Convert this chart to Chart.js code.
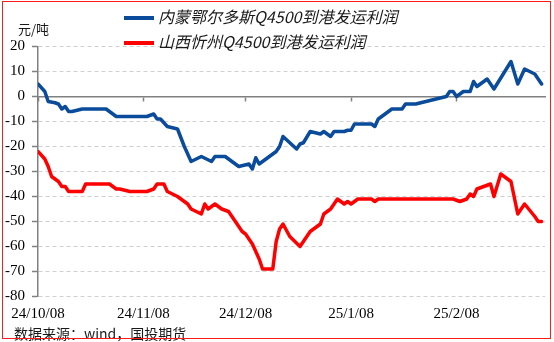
<!DOCTYPE html>
<html>
<head>
<meta charset="utf-8">
<script src="https://cdn.jsdelivr.net/npm/chart.js@4.4.0/dist/chart.umd.min.js"></script>
<style>
  body { margin: 0; background: #fff; }
  #wrap { position: relative; width: 554px; height: 342px; }
  #frame { position: absolute; left: 2px; top: 1px; width: 547px; height: 336px; border: 1.5px solid #ff1a1a; pointer-events: none; }
  .leg { position: absolute; left: 124px; height: 20px; line-height: 20px; font: italic 16px "Noto Sans CJK SC"; color: #1a1a1a; white-space: nowrap; }
  .leg i { display: inline-block; width: 30px; height: 4px; vertical-align: middle; margin-right: 4px; margin-top: -2px; }
  #unit { position: absolute; left: 18px; top: 19px; font: 13px "Noto Sans CJK SC"; color: #1a1a1a; }
  #src { position: absolute; left: 14px; top: 323px; font: 14px "Noto Sans CJK SC"; color: #1a1a1a; }
</style>
</head>
<body>
<div id="wrap">
  <canvas id="myChart" width="554" height="342"></canvas>
  <div class="leg" style="top:4px"><i style="background:#0a4b9b"></i>内蒙鄂尔多斯Q4500到港发运利润</div>
  <div class="leg" style="top:29px"><i style="background:#ff0000"></i>山西忻州Q4500到港发运利润</div>
  <div id="unit">元/吨</div>
  <div id="src">数据来源：wind，国投期货</div>
  <div id="frame"></div>
</div>
<script>
// 横轴：从24/10/08起算的天数
const tickDays = [0, 31, 61, 92, 123];
const tickLabels = ["24/10/08", "24/11/08", "24/12/08", "25/1/08", "25/2/08"];

// 内蒙鄂尔多斯
const blueDays = [0, 2, 3, 5, 6, 7, 8, 9, 10, 13, 20, 23, 32, 34, 35, 36, 38, 41, 43, 45,
  48, 51, 52, 55, 59, 62, 63, 64, 65, 70, 71, 72, 76, 77, 78, 80, 83, 84, 86, 87,
  90, 91, 92, 93, 98, 99, 100, 104, 107, 108, 111, 120, 121, 122, 123, 125, 127, 128, 129, 132,
  134, 139, 141, 143, 146, 148];
const blueValues = [5, 2, -2, -2.5, -3, -5, -4, -6, -6, -5, -5, -8, -8, -7, -9, -9, -12, -13, -20, -26,
  -24, -26, -24, -24, -28, -27, -29, -24.5, -27, -22, -20, -16, -21, -19, -18.5, -14, -15, -14, -16, -14,
  -14, -13.5, -13.5, -11, -11, -12, -9, -5, -5, -3, -3, 0, 2, 2, 0, 2, 2, 6, 4, 7,
  3, 14, 5, 11, 9, 5];

// 山西忻州
const redDays = [0, 2, 3, 4, 6, 7, 8, 9, 13, 14, 21, 23, 24, 27, 32, 34, 35, 37, 38, 41,
  44, 45, 48, 49, 50, 52, 54, 56, 58, 60, 61, 63, 65, 66, 69, 70, 71, 72, 74, 77,
  80, 83, 84, 86, 88, 90, 91, 92, 94, 98, 99, 100, 122, 124, 126, 127, 128, 129, 133, 134,
  136, 139, 141, 143, 146, 147, 148];
const redValues = [-22, -25, -28, -32, -34, -36, -36, -38, -38, -35, -35, -37, -37, -38, -38, -37, -35, -35, -38, -40,
  -43, -45, -47, -43, -45, -43, -45, -46, -50, -54, -55, -59, -65, -69, -69, -58, -53, -51, -56, -60,
  -54, -51, -47, -45, -41, -43, -42, -43, -41, -41, -42, -41, -41, -42, -41, -39, -40, -37, -35, -40,
  -31, -34, -47, -43, -48, -50, -50];

const yMin = -80, yMax = 20;

function toPoints(days, values) {
  return days.map(function (d, i) { return { x: d, y: values[i] }; });
}

function monthTicks(scale) {
  scale.ticks = tickDays.map(function (v) { return { value: v }; });
}

var ctx = document.getElementById("myChart").getContext("2d");
var myChart = new Chart(ctx, {
  type: "line",
  data: {
    datasets: [
      {
        label: "内蒙鄂尔多斯Q4500到港发运利润",
        data: toPoints(blueDays, blueValues),
        borderColor: "#0a4b9b",
        borderWidth: 3.5,
      },
      {
        label: "山西忻州Q4500到港发运利润",
        data: toPoints(redDays, redValues),
        borderColor: "#ff0000",
        borderWidth: 3.5,
      },
    ],
  },
  options: {
    responsive: false,
    animation: false,
    devicePixelRatio: 1,
    layout: { padding: { left: 5, right: 9, top: 46.5, bottom: 9.5 } },
    elements: {
      point: { radius: 0 },
      line: { tension: 0, borderJoinStyle: "round", borderCapStyle: "round" },
    },
    plugins: { legend: { display: false }, tooltip: { enabled: false } },
    scales: {
      // 零轴及月份刻度
      x: {
        type: "linear",
        min: 0,
        max: 149,
        position: { y: 0 },
        afterBuildTicks: monthTicks,
        ticks: { display: false },
        grid: { drawOnChartArea: false, tickLength: 4, tickColor: "#808080", tickWidth: 1.5 },
        border: { color: "#808080", width: 1.5 },
      },
      // 底部日期标签
      x2: {
        type: "linear",
        min: 0,
        max: 149,
        position: "bottom",
        afterBuildTicks: monthTicks,
        afterFit: function (scale) { scale.paddingLeft = 0; scale.paddingRight = 0; },
        ticks: {
          autoSkip: false,
          maxRotation: 0,
          padding: 9,
          color: "#000",
          font: { family: "Liberation Serif", size: 15 },
          callback: function (v) { return tickLabels[tickDays.indexOf(v)]; },
        },
        grid: { display: false, drawTicks: false },
        border: { display: false },
      },
      y: {
        min: yMin,
        max: yMax,
        afterFit: function (scale) { scale.width = 33; },
        ticks: {
          stepSize: 10,
          padding: 7,
          color: "#000",
          font: { family: "Liberation Serif", size: 15 },
        },
        grid: {
          color: function (c) { return c.tick && c.tick.value === 0 ? "rgba(0,0,0,0)" : "#d0d0d0"; },
          tickColor: "#808080",
          tickLength: 6,
          tickWidth: 1.5,
        },
        border: { color: "#808080", width: 1.5, dash: [4, 3] },
      },
    },
  },
});
</script>
</body>
</html>
